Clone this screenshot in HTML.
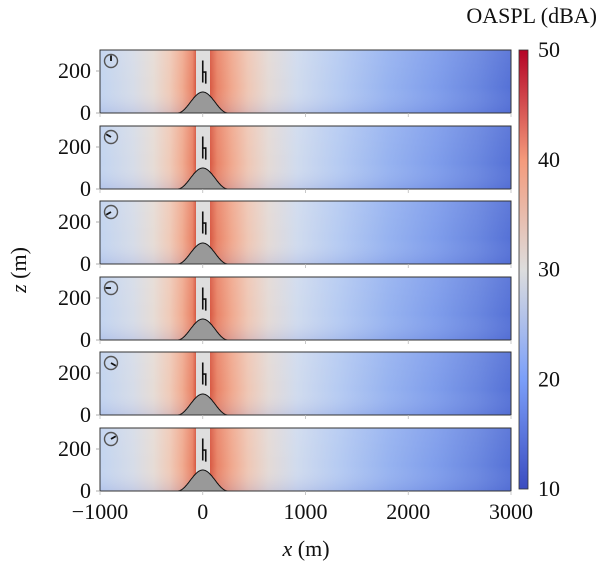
<!DOCTYPE html>
<html><head><meta charset="utf-8"><style>
body{margin:0;background:#fff;}
svg{display:block;font-family:"Liberation Serif",serif;}
</style></head><body>
<svg id="chart" width="600" height="570">
<defs>
<linearGradient id="field" x1="100" x2="511" y1="0" y2="0" gradientUnits="userSpaceOnUse">
<stop offset="0" stop-color="#c2d4f0"/>
<stop offset="0.08" stop-color="#d6dce8"/>
<stop offset="0.13" stop-color="#e6dcd6"/>
<stop offset="0.17" stop-color="#efcab8"/>
<stop offset="0.20" stop-color="#f0ac92"/>
<stop offset="0.225" stop-color="#e98468"/>
<stop offset="0.234" stop-color="#d4553f"/>
<stop offset="0.234" stop-color="#dcdcdc"/>
<stop offset="0.268" stop-color="#dcdcdc"/>
<stop offset="0.268" stop-color="#d85a44"/>
<stop offset="0.285" stop-color="#e98468"/>
<stop offset="0.32" stop-color="#f0a88e"/>
<stop offset="0.36" stop-color="#efc7b5"/>
<stop offset="0.41" stop-color="#e4dad6"/>
<stop offset="0.48" stop-color="#d0dbee"/>
<stop offset="0.58" stop-color="#b6cbf2"/>
<stop offset="0.70" stop-color="#97b3f0"/>
<stop offset="0.82" stop-color="#7f9deb"/>
<stop offset="0.92" stop-color="#6a87e0"/>
<stop offset="1" stop-color="#5571d6"/>
</linearGradient>
<linearGradient id="vshade" x1="0" x2="0" y1="0" y2="1">
<stop offset="0" stop-color="#fff" stop-opacity="0.06"/>
<stop offset="0.6" stop-color="#fff" stop-opacity="0"/>
<stop offset="1" stop-color="#3b4cc0" stop-opacity="0.12"/>
</linearGradient>
<linearGradient id="cbar" x1="0" x2="0" y1="1" y2="0">
<stop offset="0" stop-color="#3b4cc0"/>
<stop offset="0.25" stop-color="#7b9ff9"/>
<stop offset="0.5" stop-color="#dddddd"/>
<stop offset="0.75" stop-color="#f49a7b"/>
<stop offset="1" stop-color="#b40426"/>
</linearGradient>
</defs>
<g id="panels"></g>
<g id="axes"></g>
</svg>
<script>
const panelTops = [50, 126, 201, 277, 352, 428];
const rotorAngles = [0, 300, 240, 270, 120, 60];
const xTicks = [-1000, 0, 1000, 2000, 3000];
const zTicks = [0, 200];
const cbarTicks = [10, 20, 30, 40, 50];
const hillHeight = 100;
const hillHalfWidth = 245;
const NS = "http://www.w3.org/2000/svg";
const X0 = 100, X1 = 511, PH = 63;
const xs = v => X0 + (v + 1000) / 4000 * (X1 - X0);
const zs = (top, z) => top + PH - z / 300 * PH;
const cy = v => 489 - (v - 10) / 40 * (489 - 50);
const FS = 22;
function mk(tag, attrs, parent){const e=document.createElementNS(NS,tag);for(const k in attrs)e.setAttribute(k,attrs[k]);parent.appendChild(e);return e;}
const gp = document.getElementById('panels');
const ga = document.getElementById('axes');
panelTops.forEach((top, i) => {
  const g = mk('g', {}, gp);
  
  
  const f = mk('rect', {x:X0, y:top, width:X1-X0, height:PH, fill:'url(#field)'}, g);
  
  
  mk('rect', {x:X0, y:top, width:X1-X0, height:PH, fill:'url(#vshade)'}, g);
  let d = '';
  for (let x = -hillHalfWidth; x <= hillHalfWidth; x += 5) {
    const z = hillHeight * (1 + Math.cos(Math.PI * x / hillHalfWidth)) / 2;
    d += (d ? 'L' : 'M') + xs(x).toFixed(1) + ',' + zs(top, z).toFixed(1);
  }
  const hill = mk('path', {d: d + 'Z', fill:'#999', stroke:'#111', 'stroke-width':1}, g);
  
  
  const tx = xs(0);
  const t = mk('path', {d:`M${tx},${zs(top,250)}V${zs(top,145)}M${tx},${zs(top,195)}H${tx+3}V${zs(top,140)}`, stroke:'#111', 'stroke-width':1.6, fill:'none'}, g);
  
  
  mk('rect', {x:X0, y:top, width:X1-X0, height:PH, fill:'none', stroke:'#333', 'stroke-width':1}, g);
  const c = mk('g', {}, g);
  
  
  const ccx = 111, ccy = top + 11;
  mk('circle', {cx:ccx, cy:ccy, r:6.5, fill:'none', stroke:'#555', 'stroke-width':1.4}, c);
  const a = rotorAngles[i] * Math.PI / 180;
  mk('line', {x1:ccx, y1:ccy, x2:ccx + 5.5*Math.sin(a), y2:ccy - 5.5*Math.cos(a), stroke:'#111', 'stroke-width':1.8}, c);
  zTicks.forEach(z => {
    const y = zs(top, z);
    mk('line', {x1:X0-4, x2:X0, y1:y, y2:y, stroke:'#999', 'stroke-width':0.8}, ga);
    const tl = mk('text', {x:X0-9, y:y+7, 'text-anchor':'end', 'font-size':FS, fill:'#111'}, ga);
    tl.textContent = z;
    
    
  });
  xTicks.forEach(v => {
    mk('line', {x1:xs(v), x2:xs(v), y1:top+PH, y2:top+PH+4, stroke:'#bbb', 'stroke-width':0.8}, ga);
  });
});
xTicks.forEach(v => {
  const tl = mk('text', {x:xs(v), y:519, 'text-anchor':'middle', 'font-size':FS, fill:'#111'}, ga);
  tl.textContent = v < 0 ? '\u2212' + (-v) : v;
  
  
});
const xl = mk('text', {x:306, y:556, 'text-anchor':'middle', 'font-size':FS, fill:'#111'}, ga);
xl.innerHTML = '<tspan font-style="italic">x</tspan> (m)';


const zl = mk('text', {x:0, y:0, 'text-anchor':'middle', 'font-size':FS, fill:'#111', transform:'translate(26,270) rotate(-90)'}, ga);
zl.innerHTML = '<tspan font-style="italic">z</tspan> (m)';


const cb = mk('rect', {x:519, y:50, width:9, height:439, fill:'url(#cbar)', stroke:'#333', 'stroke-width':0.8}, ga);


cbarTicks.forEach(v => {
  const tl = mk('text', {x:538, y:cy(v)+7, 'font-size':FS, fill:'#111'}, ga);
  tl.textContent = v;
  
  
});
const ct = mk('text', {x:597, y:23, 'text-anchor':'end', 'font-size':FS, fill:'#111'}, ga);
ct.textContent = 'OASPL (dBA)';


</script>
</body></html>
